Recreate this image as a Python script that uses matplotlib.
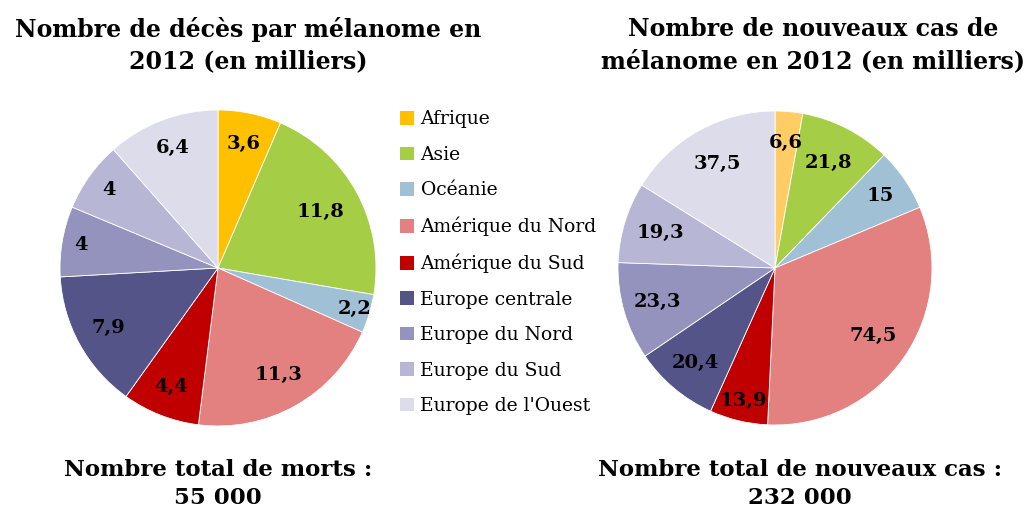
import numpy as np
import matplotlib.pyplot as plt
from matplotlib.patches import Patch

plt.rcParams["font.family"] = ["DejaVu Serif"]

regions = ["Afrique", "Asie", "Océanie", "Amérique du Nord", "Amérique du Sud",
           "Europe centrale", "Europe du Nord", "Europe du Sud", "Europe de l'Ouest"]
deaths = [3.6, 11.8, 2.2, 11.3, 4.4, 7.9, 4, 4, 6.4]
new_cases = [6.6, 21.8, 15, 74.5, 13.9, 20.4, 23.3, 19.3, 37.5]

colors = ["#FFC000", "#A5CD45", "#A0C0D5", "#E38080", "#C00000",
          "#545488", "#9393BD", "#B7B7D5", "#DCDCEA"]
colors_right = ["#FFCC66"] + colors[1:]

# distance of each value label from the centre (fraction of radius), as placed in the original
label_r_left = [0.80, 0.74, 0.90, 0.78, 0.81, 0.79, 0.88, 0.85, 0.81]
label_r_right = [0.80, 0.75, 0.81, 0.76, 0.87, 0.79, 0.78, 0.76, 0.76]

W, H = 1031, 512


def fmt(v):
    return ("%g" % v).replace(".", ",")


fig = plt.figure(figsize=(W / 100, H / 100), dpi=100)


def draw_pie(cx, cy, r, values, cols, label_r):
    ax = fig.add_axes([(cx - r) / W, (H - cy - r) / H, 2 * r / W, 2 * r / H])
    ax.pie(values, colors=cols, startangle=90, counterclock=False, radius=1,
           wedgeprops=dict(edgecolor="white", linewidth=0.6))
    total = sum(values)
    acc = 0
    for v, d in zip(values, label_r):
        a = np.deg2rad(90 - 360 * (acc + v / 2) / total)
        acc += v
        ax.text(d * np.cos(a), d * np.sin(a), fmt(v), ha="center", va="center",
                fontsize=14, fontweight="bold", color="black")
    ax.set_xlim(-1, 1)
    ax.set_ylim(-1, 1)
    ax.set_aspect("equal")
    return ax


draw_pie(218, 268, 158, deaths, colors, label_r_left)
draw_pie(775, 268, 157, new_cases, colors_right, label_r_right)

fig.text(248 / W, 1 - 45 / H, "Nombre de décès par mélanome en\n2012 (en milliers)",
         ha="center", va="center", fontsize=17, fontweight="bold", linespacing=1.4)
fig.text(813 / W, 1 - 45 / H, "Nombre de nouveaux cas de\nmélanome en 2012 (en milliers)",
         ha="center", va="center", fontsize=17, fontweight="bold", linespacing=1.4)
fig.text(218 / W, 1 - 484 / H, "Nombre total de morts :\n55 000",
         ha="center", va="center", fontsize=16.5, fontweight="bold", linespacing=1.4)
fig.text(800 / W, 1 - 484 / H, "Nombre total de nouveaux cas :\n232 000",
         ha="center", va="center", fontsize=16.5, fontweight="bold", linespacing=1.4)

handles = [Patch(facecolor=c, edgecolor="none") for c in colors]
fig.legend(handles, regions, loc="upper left", bbox_to_anchor=(392 / W, 1 - 103 / H),
           frameon=False, fontsize=13.5, handlelength=0.75, handleheight=0.75,
           handletextpad=0.37, labelspacing=0.93, borderaxespad=0)

fig.savefig("out.png", dpi=100)
